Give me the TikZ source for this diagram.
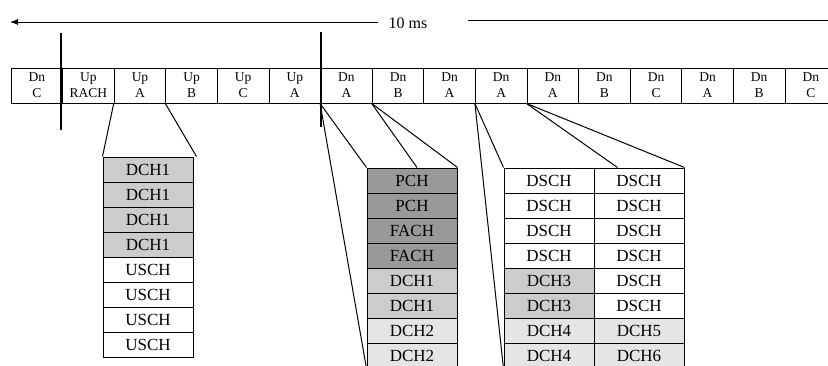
\documentclass[tikz,border=0pt]{standalone}
\usepackage{fontspec}
\setmainfont{Liberation Serif}
\usetikzlibrary{arrows.meta,positioning,calc}
\definecolor{chgray}{gray}{0.6}
\definecolor{midgray}{gray}{0.8}
\definecolor{lightgray}{gray}{0.9}

\begin{document}
\begin{tikzpicture}[x=1pt, y=-1pt,
    slot/.style={draw, line width=1pt, minimum width=51.6pt, minimum height=35pt,
      inner sep=0pt, align=center, font=\fontsize{13.5}{16}\selectfont},
    cell/.style={draw, line width=1pt, minimum width=90pt, minimum height=25pt,
      inner sep=0pt, font=\fontsize{17}{18}\selectfont},
    fan/.style={line width=1pt}]
      \useasboundingbox (0,0) rectangle (828,365);

      % time span over the frame
      \coordinate (tip) at (10,22);
      \coordinate (tail) at (378,22);
      \coordinate (spanstart) at (468,20);
      \coordinate (spanend) at (828,20);
      \node[font=\fontsize{16}{18}\selectfont] (span) at (408,23) {10 ms};
      \draw[line width=1pt, -{Latex[length=8pt, width=6pt]}] (tail) -- (tip);
      \draw[line width=1pt] (spanstart) -- (spanend);

      % time slots
      \foreach \lab [count=\i] in {{Dn\\C},{Up\\RACH},{Up\\A},{Up\\B},{Up\\C},{Up\\A},
          {Dn\\A},{Dn\\B},{Dn\\A},{Dn\\A},{Dn\\A},{Dn\\B},{Dn\\C},{Dn\\A},{Dn\\B},{Dn\\C}}
        \node[slot] (f\i) at ({11+51.6*(\i-0.5)}, 85.5) {\lab};

      % switching points
      \coordinate (m1top) at (61,33);
      \coordinate (m1bot) at (61,130);
      \coordinate (m2top) at (321,32);
      \coordinate (m2bot) at (321,127);
      \draw[line width=1.4pt] (m1top) -- (m1bot);
      \draw[line width=1.4pt] (m2top) -- (m2bot);

      % uplink slot A
      \foreach \lab/\col [count=\i] in {DCH1/midgray,DCH1/midgray,DCH1/midgray,DCH1/midgray,
          USCH/white,USCH/white,USCH/white,USCH/white}
        \node[cell, fill=\col] (a\i) at (148, {157+25*(\i-0.5)}) {\lab};

      % downlink slots A and B
      \foreach \lab/\col [count=\i] in {PCH/chgray,PCH/chgray,FACH/chgray,FACH/chgray,
          DCH1/midgray,DCH1/midgray,DCH2/lightgray,DCH2/lightgray}
        \node[cell, fill=\col] (b\i) at (412, {168+25*(\i-0.5)}) {\lab};

      % shared channel slots
      \foreach \lab/\col [count=\i] in {DSCH/white,DSCH/white,DSCH/white,DSCH/white,
          DCH3/midgray,DCH3/midgray,DCH4/lightgray,DCH4/lightgray}
        \node[cell, fill=\col] (c\i) at (549, {168+25*(\i-0.5)}) {\lab};
      \foreach \lab/\col [count=\i] in {DSCH/white,DSCH/white,DSCH/white,DSCH/white,
          DSCH/white,DSCH/white,DCH5/lightgray,DCH6/lightgray}
        \node[cell, fill=\col] (d\i) at (639, {168+25*(\i-0.5)}) {\lab};

      % fan-out lines
      \draw[fan] (f3.south west) -- (a1.north west);
      \draw[fan] (f4.south west) -- ([xshift=3pt]a1.north east);
      \draw[fan] (f7.south west) -- (b1.north west);
      \draw[fan] (f7.south west) -- (b8.south west);
      \draw[fan] (f8.south west) -- ([xshift=5pt]b1.north);
      \draw[fan] (f8.south west) -- (b1.north east);
      \draw[fan] (f10.south west) -- (c1.north west);
      \draw[fan] (f10.south west) -- (c8.south west);
      \draw[fan] (f11.south west) -- ([xshift=24pt]d1.north west);
      \draw[fan] (f11.south west) -- (d1.north east);
\end{tikzpicture}
\end{document}
